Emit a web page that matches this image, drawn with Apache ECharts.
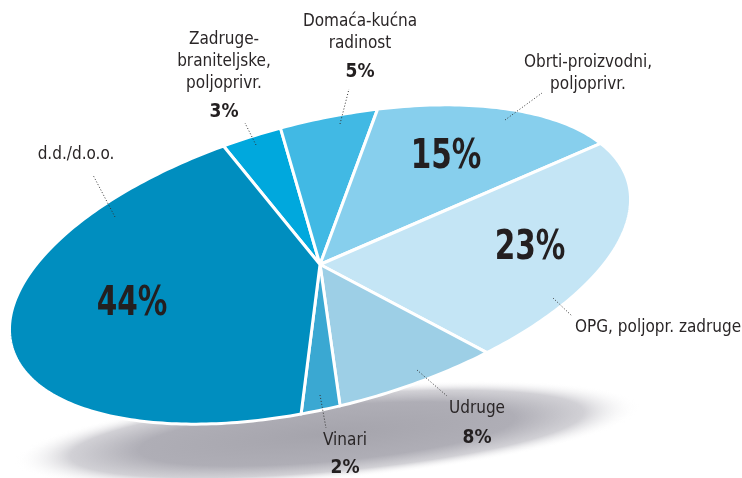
<!DOCTYPE html>
<html>
<head>
<meta charset="utf-8">
<script src="https://cdn.jsdelivr.net/npm/echarts@6/dist/echarts.min.js"></script>
<style>
  html, body { margin: 0; padding: 0; background: #fff; }
  #main { width: 742px; height: 478px; }
</style>
</head>
<body>
<div id="main"></div>
<script>
// slices, clockwise from the top
var categories = ['Zadruge-\nbraniteljske,\npoljoprivr.', 'Domaća-kućna\nradinost', 'Obrti-proizvodni,\npoljoprivr.', 'OPG, poljopr. zadruge', 'Udruge', 'Vinari', 'd.d./d.o.o.'];
var shares = [3, 5, 15, 23, 8, 2, 44];
var colors = ['#00a8dd', '#41b9e4', '#87cfed', '#c4e5f5', '#9dcfe6', '#3aa8d2', '#008ebf'];
// true = big percentage inside the slice
var insideLabel = [false, false, true, true, false, false, true];

// tilted ellipse the pie is drawn on
var CX = 320, CY = 264.5, RA = 319, RB = 142;
var TILT = 14.8 * Math.PI / 180;
var START = -101.4; // degrees, where the first slice starts

// where the labels sit (text centre, percent centre, dotted leader)
var labelLayout = [
  { name: [224, 62], pct: [224, 112], lead: [[256, 145], [245, 123]] },
  { name: [360, 33], pct: [360, 72], lead: [[340, 124], [349, 89]] },
  { name: [588, 74], pct: [446, 158], lead: [[505, 120], [542, 93]] },
  { name: [575, 328], pct: [530, 249], lead: [[553, 298], [572, 316]], left: true },
  { name: [477, 409], pct: [477, 438], lead: [[417, 370], [447, 396]] },
  { name: [345, 441], pct: [345, 468], lead: [[320, 395], [326, 428]] },
  { name: [76, 155], pct: [132, 305], lead: [[115, 217], [93, 175]] }
];

var total = shares.reduce(function (s, v) { return s + v; }, 0);
var startAngles = [];
var acc = 0;
shares.forEach(function (v) { startAngles.push(START + 360 * acc / total); acc += v; });

function ellipsePoint(deg) {
  var t = deg * Math.PI / 180;
  var u = RA * Math.cos(t), v = RB * Math.sin(t);
  return [CX + u * Math.cos(TILT) + v * Math.sin(TILT), CY - u * Math.sin(TILT) + v * Math.cos(TILT)];
}

var textFont = '"DejaVu Sans Condensed", sans-serif';

function renderSlice(params, api) {
  var i = params.dataIndex;
  var a0 = startAngles[i];
  var a1 = a0 + 360 * api.value(0) / total;
  var pts = [[CX, CY]];
  for (var a = a0; a < a1; a += 1) pts.push(ellipsePoint(a));
  pts.push(ellipsePoint(a1));

  var lay = labelLayout[i];
  var big = insideLabel[i];
  var children = [{
    type: 'polygon',
    shape: { points: pts },
    style: { fill: colors[i], stroke: '#fff', lineWidth: 3, lineJoin: 'round' }
  }, {
    type: 'line',
    z2: 10,
    shape: { x1: lay.lead[0][0], y1: lay.lead[0][1], x2: lay.lead[1][0], y2: lay.lead[1][1] },
    style: { stroke: '#333', lineWidth: 1, lineDash: [1, 2] }
  }, {
    type: 'text',
    z2: 10,
    style: {
      text: categories[i], x: lay.name[0], y: lay.name[1],
      align: lay.left ? 'left' : 'center', verticalAlign: 'middle',
      fontFamily: textFont, fontSize: 17, lineHeight: 22, fill: '#2a2627'
    }
  }, {
    // percentages are squeezed a little to look like a narrow bold face
    type: 'text',
    z2: 10,
    x: lay.pct[0], y: lay.pct[1],
    scaleX: big ? 0.82 : 0.95,
    style: {
      text: api.value(0) + '%', x: 0, y: 0,
      align: 'center', verticalAlign: 'middle',
      fontFamily: textFont, fontWeight: 'bold',
      fontSize: big ? 40 : 20, fill: '#231f20'
    }
  }];
  return { type: 'group', children: children };
}

var chart = echarts.init(document.getElementById('main'));
chart.setOption({
  animation: false,
  graphic: [{
    type: 'circle',
    z: 0,
    x: 327, y: 434,
    scaleX: 314, scaleY: 46,
    rotation: 5 * Math.PI / 180,
    shape: { cx: 0, cy: 0, r: 1 },
    style: {
      fill: {
        type: 'radial', x: 0.5, y: 0.5, r: 0.5,
        colorStops: [
          { offset: 0, color: 'rgba(165,164,172,1)' },
          { offset: 0.6, color: 'rgba(175,174,182,1)' },
          { offset: 0.82, color: 'rgba(198,197,203,0.8)' },
          { offset: 1, color: 'rgba(255,255,255,0)' }
        ]
      }
    }
  }],
  series: [{
    type: 'custom',
    coordinateSystem: 'none',
    z: 5,
    renderItem: renderSlice,
    data: shares.map(function (v) { return [v]; })
  }]
});
</script>
</body>
</html>
